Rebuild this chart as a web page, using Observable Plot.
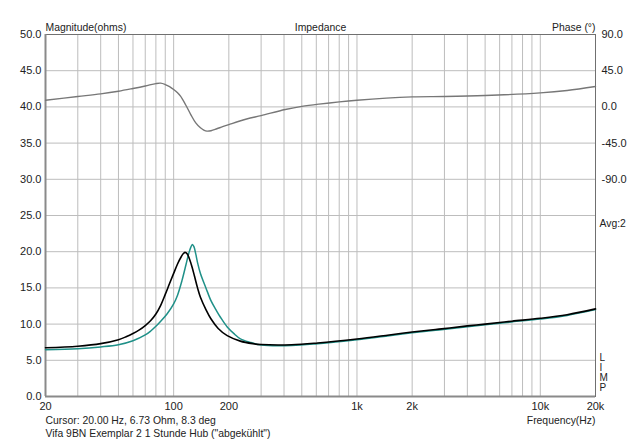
<!DOCTYPE html>
<html><head><meta charset="utf-8">
<script src="https://cdn.jsdelivr.net/npm/d3@7"></script>
<script src="https://cdn.jsdelivr.net/npm/@observablehq/plot@0.6"></script>
<style>body{margin:0;background:#fff}svg{display:block}</style>
</head><body><div id="chart"></div>
<script>
// Measurement 1 (black)
const freqBlack = [20,30,40,50,55,60,65,70,75,80,85,90,95,100,105,110,113,116,119,122,126,130,135,140,150,160,175,196,231,270,300,440,610,1000,1500,2000,2800,4000,5000,7000,10000,14000,20000];
const magBlack  = [6.73,6.95,7.3,7.85,8.25,8.7,9.2,9.8,10.5,11.4,12.6,14.1,15.6,17.0,18.3,19.3,19.75,19.9,19.65,19.0,17.9,16.6,15.0,13.7,12.0,10.7,9.4,8.4,7.65,7.3,7.18,7.15,7.4,7.95,8.5,8.9,9.3,9.75,10.0,10.4,10.8,11.3,12.1];
// Measurement 2 (teal)
const freqTeal = [20,30,40,50,60,70,75,80,85,92,100,105,111,117,121,124,126.5,129,132,135,140,150,160,170,180,196,215,230,260,300,440,610,1000,1500,2000,2800,4000,5000,7000,10000,14000,20000];
const magTeal  = [6.45,6.6,6.85,7.15,7.7,8.5,9.05,9.7,10.4,11.4,12.8,14.0,16.0,18.3,19.8,20.6,21.0,20.7,19.7,18.5,17.0,15.0,13.2,12.0,10.95,9.6,8.6,8.0,7.5,7.12,7.05,7.3,7.85,8.4,8.8,9.2,9.65,9.9,10.3,10.7,11.2,12.0];
// Phase (degrees, right axis)
const freqPhase = [20,30,40,50,60,70,80,85,90,95,100,105,109,116,124,132,140,146,152,160,172,185,200,250,300,406,500,620,1000,2000,3000,5000,10000,14000,20000];
const phaseDeg  = [8.3,12.9,16.2,19.5,22.9,26.0,29.0,29.5,27.8,25.2,21.6,17.5,13.3,3.0,-9.5,-19.9,-26.0,-28.8,-30.1,-29.6,-27.2,-24.6,-22.0,-15.0,-10.8,-3.3,0.7,3.5,8.3,12.5,12.9,14.1,17.4,20.4,25.3];

const xTickValues = [20,50,100,200,500,1000,2000,5000,10000,20000];
const xTickLabels = ["20","50","100","200","500","1k","2k","5k","10k","20k"];
const xGrid = [30,40,50,60,70,80,90,100,200,300,400,500,600,700,800,900,1000,2000,3000,4000,5000,6000,7000,8000,9000,10000];
const yTicks = [0,5,10,15,20,25,30,35,40,45,50];
const phaseTicks = [90,45,0,-45,-90];
const phaseMin = -90, phaseMax = 90, phaseOhmLow = 30, phaseOhmHigh = 50;

const toOhm = p => phaseOhmLow + (p - phaseMin) / (phaseMax - phaseMin) * (phaseOhmHigh - phaseOhmLow);

const black = freqBlack.map((f, i) => ({f, z: magBlack[i]}));
const teal = freqTeal.map((f, i) => ({f, z: magTeal[i]}));
const phase = freqPhase.map((f, i) => ({f, z: toOhm(phaseDeg[i])}));
const phaseLabelMap = new Map(phaseTicks.map(p => [toOhm(p), p.toFixed(1)]));

const font = "'Liberation Sans', Arial, sans-serif";
const tc = "#222";
const fs = "10.4px";

const chart = Plot.plot({
  width: 640, height: 443,
  marginLeft: 45, marginRight: 45, marginTop: 34, marginBottom: 47,
  style: {fontFamily: font, fontSize: "11px", color: tc, background: "#fff"},
  x: {type: "log", domain: [20, 20000]},
  y: {domain: [0, 50]},
  marks: [
    Plot.ruleX(xGrid, {stroke: "#bdbdbd", strokeWidth: 1}),
    Plot.ruleY(yTicks, {stroke: "#bdbdbd", strokeWidth: 1}),
    Plot.frame({stroke: "#707070", strokeWidth: 1}),
    Plot.ruleX([20], {stroke: "#8a8a8a", strokeWidth: 2}),
    Plot.ruleY([0], {stroke: "#8a8a8a", strokeWidth: 2}),
    Plot.axisY({ticks: yTicks, tickFormat: d => d.toFixed(1), tickSize: 0, tickPadding: 4, label: null, fill: tc}),
    Plot.axisY({anchor: "right", ticks: phaseTicks.map(toOhm), tickFormat: d => phaseLabelMap.get(d), tickSize: 0, tickPadding: 6, label: null, fill: tc}),
    Plot.axisX({ticks: xTickValues, tickFormat: d => xTickLabels[xTickValues.indexOf(d)], tickSize: 0, tickPadding: 6, label: null, fill: tc}),
    Plot.line(phase, {x: "f", y: "z", stroke: "#777", strokeWidth: 1.4, curve: "catmull-rom"}),
    Plot.line(teal, {x: "f", y: "z", stroke: "#1f9088", strokeWidth: 1.5, curve: "catmull-rom"}),
    Plot.line(black, {x: "f", y: "z", stroke: "#000", strokeWidth: 1.6, curve: "catmull-rom"}),
    Plot.text(["Magnitude(ohms)"], {frameAnchor: "top-left", textAnchor: "start", dy: -11, fill: tc, fontSize: fs}),
    Plot.text(["Impedance"], {frameAnchor: "top", dy: -11, fill: tc, fontSize: fs}),
    Plot.text(["Phase (°)"], {frameAnchor: "top-right", textAnchor: "end", dy: -11, fill: tc, fontSize: fs}),
    Plot.text(["Avg:2"], {frameAnchor: "top-right", textAnchor: "start", dx: 4, dy: 185, fill: tc, fontSize: fs}),
    Plot.text(["L\nI\nM\nP"], {frameAnchor: "bottom-right", textAnchor: "start", lineAnchor: "bottom", lineHeight: 1, dx: 4, dy: -6, fill: tc, fontSize: "10px"}),
    Plot.text(["Frequency(Hz)"], {frameAnchor: "bottom-right", textAnchor: "end", dy: 27, fill: tc, fontSize: fs}),
    Plot.text(["Cursor: 20.00 Hz, 6.73 Ohm, 8.3 deg"], {frameAnchor: "bottom-left", textAnchor: "start", dy: 27, fill: tc, fontSize: fs}),
    Plot.text(["Vifa 9BN Exemplar 2 1 Stunde Hub (\"abgekühlt\")"], {frameAnchor: "bottom-left", textAnchor: "start", dy: 40, fill: tc, fontSize: fs})
  ]
});
document.getElementById("chart").append(chart);
</script>
</body></html>
